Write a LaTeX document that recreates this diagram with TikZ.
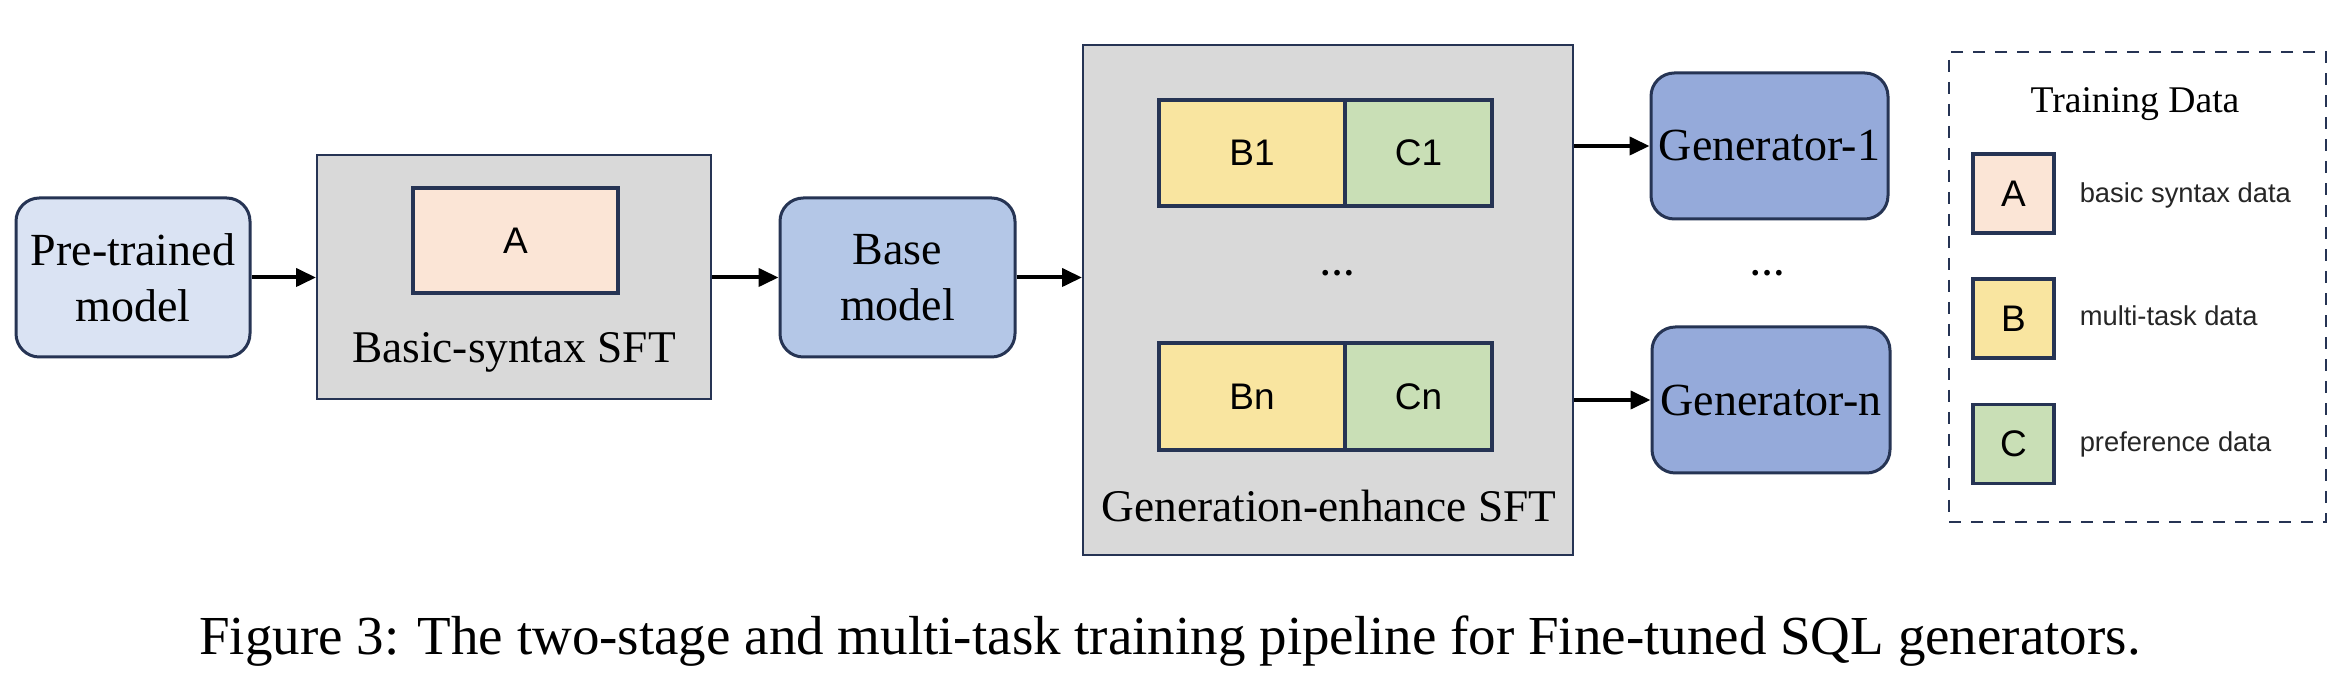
\documentclass[tikz,border=0pt]{standalone}
\usepackage{fontspec}
\setmainfont{Liberation Serif}
\newfontfamily\arialf{Liberation Sans}
\usetikzlibrary{arrows.meta}
\definecolor{navy}{RGB}{38,52,84}
\definecolor{preblue}{HTML}{DAE3F3}
\definecolor{baseblue}{HTML}{B4C7E7}
\definecolor{genblue}{HTML}{95AADA}
\definecolor{grayfill}{HTML}{D9D9D9}
\definecolor{peach}{HTML}{FBE5D6}
\definecolor{goldfill}{HTML}{F9E5A0}
\definecolor{sagefill}{HTML}{C9DFB6}
\begin{document}
\begin{tikzpicture}[x=0.3pt,y=-0.3pt,
  model/.style={draw=navy, line width=0.9pt, rounded corners=7pt, align=center,
    font=\fontsize{13.8}{16.8}\selectfont, inner sep=0pt},
  stage/.style={draw=navy, line width=0.6pt, fill=grayfill, inner sep=0pt},
  datab/.style={draw=navy, line width=1pt, inner sep=0pt,
    font=\arialf\fontsize{11.1}{13}\selectfont},
  lsq/.style={datab, minimum width=24.3pt, minimum height=23.7pt},
  llabel/.style={anchor=base west, text=black!85, font=\arialf\fontsize{8.2}{10}\selectfont},
  stlabel/.style={anchor=base, font=\fontsize{13.6}{16}\selectfont},
  dotsnode/.style={font=\bfseries\fontsize{10.5}{12}\selectfont, inner sep=0pt},
  flow/.style={-{Triangle[length=6pt,width=5.4pt]}, line width=1.2pt, black}]
\useasboundingbox (0,0) rectangle (2348,678);
\fill[white] (0,0) rectangle (2348,678);

% pre-trained model
\node[model, fill=preblue, minimum width=70.2pt, minimum height=47.7pt] (pre) at (133,277.5) {Pre-trained\\model};

% basic syntax SFT stage
\node[stage, minimum width=118.2pt, minimum height=73.2pt] (basic) at (514,277) {};
\node[datab, fill=peach, minimum width=61.5pt, minimum height=31.5pt] (boxA) at (515.5,240.5) {A};
\node[stlabel] (basiclbl) at (514,363) {Basic-syntax SFT};

% base model
\node[model, fill=baseblue, minimum width=70.5pt, minimum height=47.7pt] (base) at (897.5,277.5) {Base\\model};

% generation-enhance SFT stage
\node[stage, minimum width=147pt, minimum height=153pt] (gen) at (1328,300) {};
\node[datab, fill=goldfill, minimum width=55.8pt, minimum height=31.8pt] (b1) at (1252,153) {B1};
\node[datab, fill=sagefill, minimum width=44.1pt, minimum height=31.8pt] (c1) at (1418.5,153) {C1};
\node[dotsnode] (gendots) at (1337,273) {…};
\node[datab, fill=goldfill, minimum width=55.8pt, minimum height=32.1pt] (bn) at (1252,396.5) {Bn};
\node[datab, fill=sagefill, minimum width=44.1pt, minimum height=32.1pt] (cn) at (1418.5,396.5) {Cn};
\node[stlabel] (genlbl) at (1329,522) {Generation-enhance SFT};

% generators
\node[model, fill=genblue, minimum width=71.1pt, minimum height=43.8pt] (g1) at (1769.5,146) {Generator-1};
\node[dotsnode] (gdots) at (1767,273) {…};
\node[model, fill=genblue, minimum width=71.4pt, minimum height=43.8pt] (gn) at (1771,400) {Generator-n};

% arrows
\draw[flow] (pre.east) -- (pre.east -| basic.west);
\draw[flow] (basic.east |- base.west) -- (base.west);
\draw[flow] (base.east) -- (base.east -| gen.west);
\draw[flow] (gen.east |- g1.west) -- (g1.west);
\draw[flow] (gen.east |- gn.west) -- (gn.west);

% legend
\node[draw=navy, dash pattern=on 3.6pt off 3pt, line width=0.75pt, minimum width=113.1pt, minimum height=141pt, inner sep=0pt] (legend) at (2137.5,287) {};
\node[anchor=base, font=\fontsize{11.3}{13}\selectfont] (ltitle) at (2135,113) {Training Data};
\node[lsq, fill=peach] (la) at (2013.5,193.5) {A};
\node[lsq, fill=goldfill] (lb) at (2013.5,318.5) {B};
\node[lsq, fill=sagefill] (lc) at (2013.5,444) {C};
\node[llabel] (lat) at (2068,202.5) {basic syntax data};
\node[llabel] (lbt) at (2068,326) {multi-task data};
\node[llabel] (lct) at (2068,452) {preference data};

% caption
\node[anchor=base, font=\fontsize{16.5}{20}\selectfont] (cap) at (1170,655) {Figure 3: The two-stage and multi-task training pipeline for Fine-tuned SQL generators.};
\end{tikzpicture}
\end{document}
